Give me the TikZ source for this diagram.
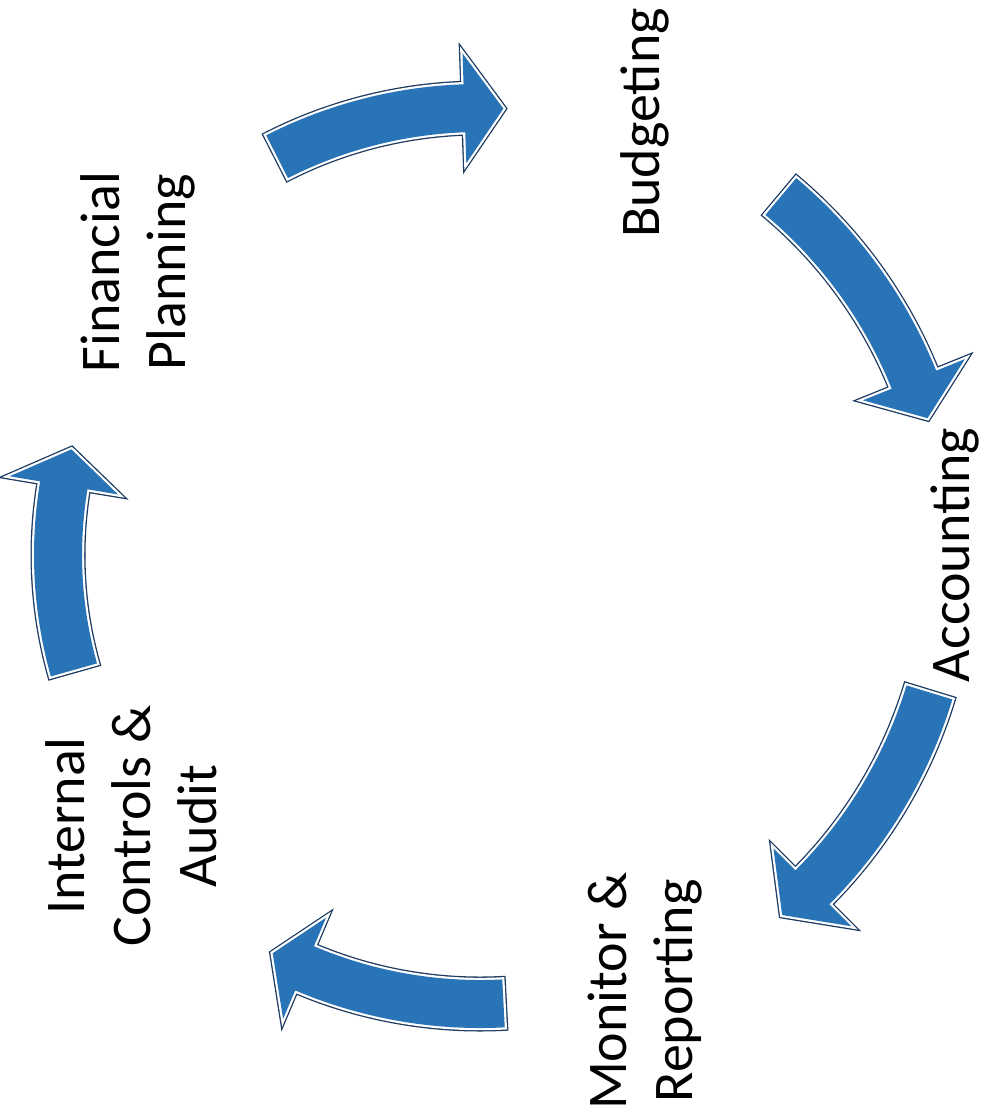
\documentclass[tikz,border=0pt]{standalone}
\usepackage{fontspec}
\setmainfont{Carlito}
\definecolor{arrowblue}{RGB}{41,116,183}
\definecolor{arrowedge}{RGB}{28,58,98}
\tikzset{
  cycarrow/.style={fill=arrowblue, line join=miter,
    preaction={draw=arrowedge, line width=7pt, line join=miter},
    preaction={draw=white, line width=4.4pt, line join=miter}},
  label/.style={rotate=90, align=center, inner sep=0pt,
    font=\fontsize{56}{66}\selectfont}
}
% #1 tail angle, #2 head-base angle, #3 tip angle, #4 radius (pt)
\newcommand{\CycArrow}[4]{%
  \path[cycarrow] (#1:#4pt+24pt) arc[start angle=#1, end angle=#2, radius=#4pt+24pt]
    -- (#2:#4pt+55pt) -- (#3:#4pt) -- (#2:#4pt-55pt) -- (#2:#4pt-24pt)
    arc[start angle=#2, end angle=#1, radius=#4pt-24pt] -- cycle;}
\begin{document}
\begin{tikzpicture}[x=1pt,y=1pt]
\useasboundingbox (0,0) rectangle (983,-1113);
\begin{scope}[shift={(480,-555)}]
  \CycArrow{117}{92}{87}{447}
  \CycArrow{50}{22}{17}{468}
  \CycArrow{-17}{-45}{-50}{470}
  \CycArrow{-87}{-113}{-117.5}{449}
  \CycArrow{195.8}{170.5}{165.5}{422}
\end{scope}
\node[label] (fin) at (138,-272) {Financial\\Planning};
\node[label] (bud) at (645,-123) {Budgeting};
\node[label] (acc) at (955,-555) {Accounting};
\node[label] (mon) at (645,-991) {Monitor \&\\Reporting};
\node[label] (int) at (131,-826) {Internal\\Controls \&\\Audit};
\end{tikzpicture}
\end{document}
